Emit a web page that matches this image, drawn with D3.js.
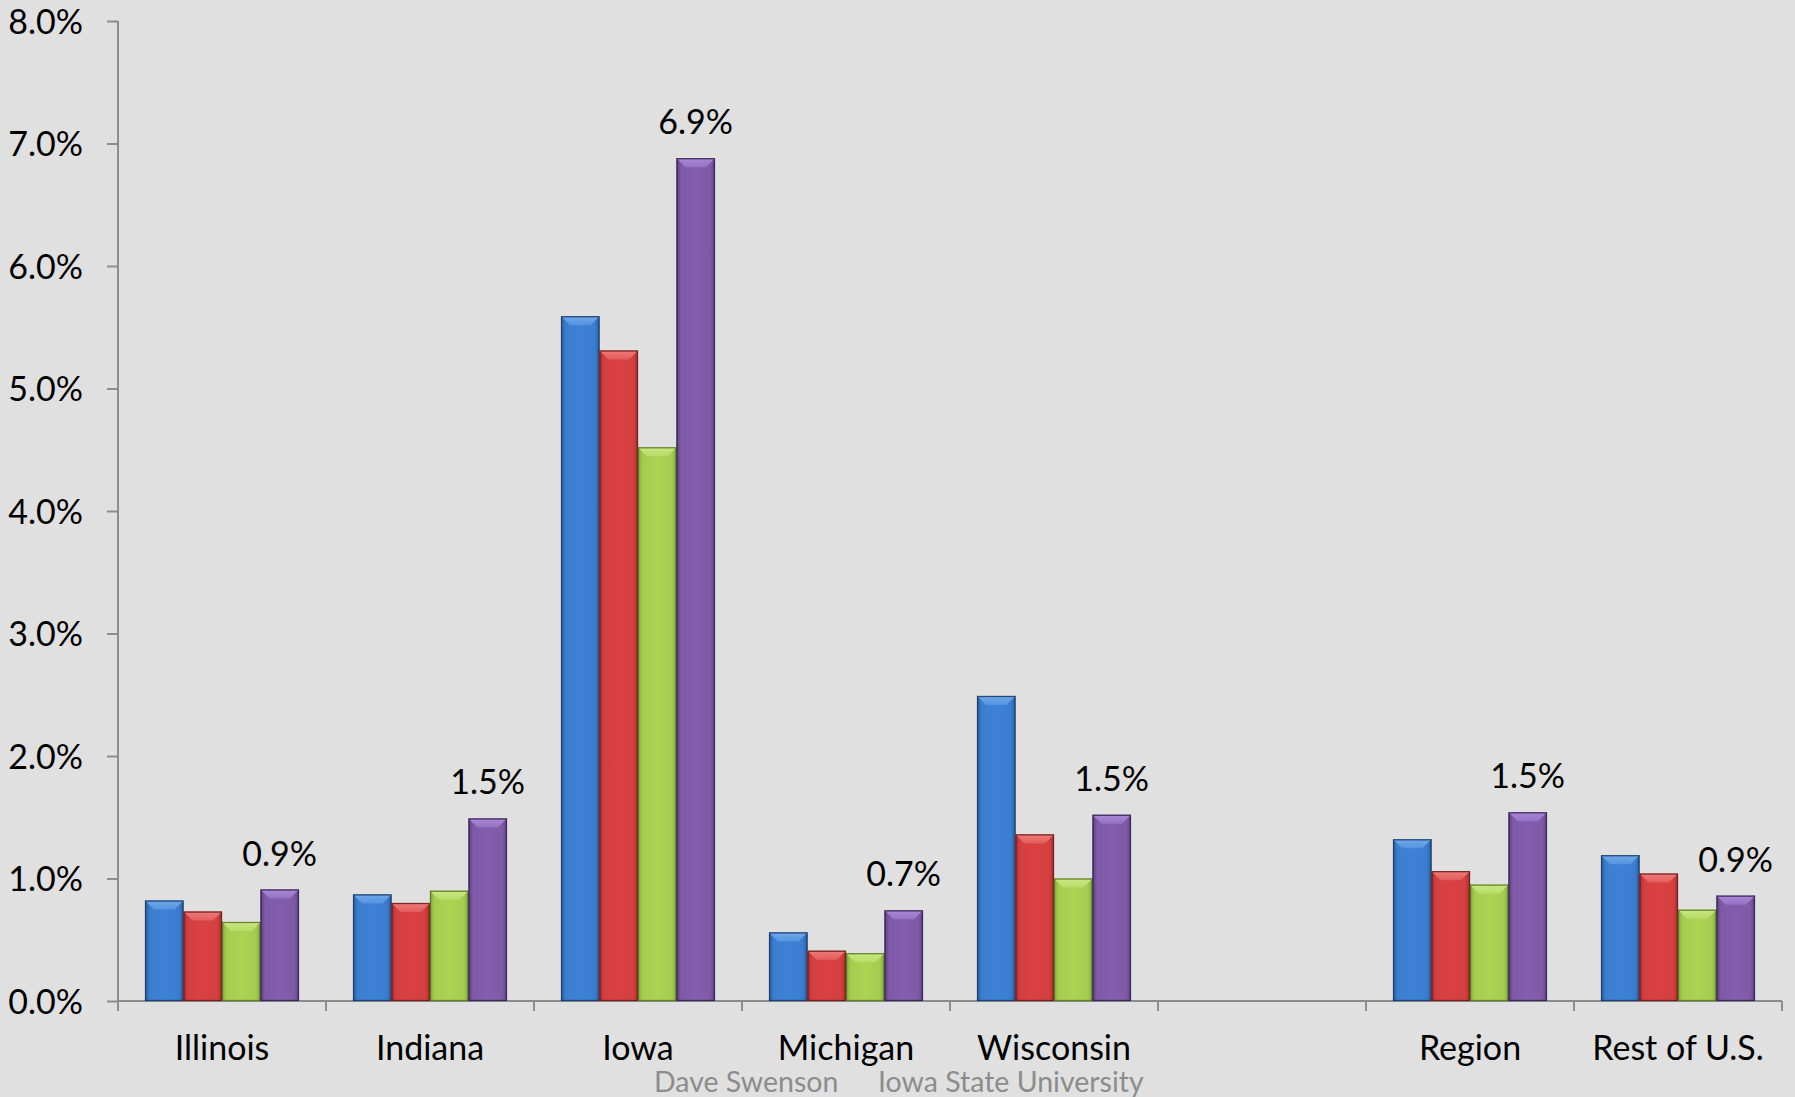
<!DOCTYPE html>
<meta charset="utf-8">
<style>
body { margin: 0; background: #e0e0e0; }
svg { display: block; font-family: Lato, "Open Sans", sans-serif; }
.axis path, .axis line { stroke: #8c8c8c; stroke-width: 2px; }
.axis text { fill: #000; font-size: 34px; font-family: Lato, sans-serif; }
.value-labels text { fill: #000; font-size: 34px; text-anchor: middle; }
.footer text { fill: #8c8c8c; font-size: 28.5px; }
</style>

<svg id="chart" width="1795" height="1097"></svg>

<script src="https://d3js.org/d3.v7.min.js"></script>
<script>
    var categories = ["Illinois", "Indiana", "Iowa", "Michigan", "Wisconsin", "", "Region", "Rest of U.S."];
    var s1 = [0.82, 0.87, 5.59, 0.56, 2.49, null, 1.32, 1.19];
    var s2 = [0.73, 0.80, 5.31, 0.41, 1.36, null, 1.06, 1.04];
    var s3 = [0.645, 0.90, 4.52, 0.39, 1.00, null, 0.95, 0.745];
    var s4 = [0.91, 1.49, 6.88, 0.74, 1.52, null, 1.54, 0.86];
    var valueLabels = ["0.9%", "1.5%", "6.9%", "0.7%", "1.5%", "", "1.5%", "0.9%"];
    var yTicks = [0, 1, 2, 3, 4, 5, 6, 7, 8];

    var colors = [
        {base: "#3b7dd0", light: "#6ea9ec", dark: "#2a5e9e", line: "#1d3a60"},
        {base: "#d43f3f", light: "#f07b79", dark: "#a82e2e", line: "#661c1c"},
        {base: "#a4cd4f", light: "#c9e882", dark: "#84a83a", line: "#587324"},
        {base: "#7f5aa8", light: "#ab88da", dark: "#5f4181", line: "#33234a"}
    ];

    var series = [s1, s2, s3, s4];

    var svg = d3.select("#chart"),
        plotLeft = 118, plotRight = 1782, plotTop = 21, plotBottom = 1001;

    var x = d3.scaleBand()
              .domain(d3.range(categories.length))
              .range([plotLeft, plotRight])
              .paddingInner(0)
              .paddingOuter(0);
    var groupPad = 0.26;
    var x1 = d3.scaleBand()
               .domain(d3.range(series.length))
               .range([x.bandwidth() * groupPad / 2, x.bandwidth() * (1 - groupPad / 2)]);
    var y = d3.scaleLinear()
              .domain([0, 8])
              .range([plotBottom, plotTop]);

    // gradients for each colour
    var defs = svg.append("defs");
    colors.forEach(function(c, i) {
        var g = defs.append("linearGradient")
                    .attr("id", "grad" + i)
                    .attr("x1", "0").attr("x2", "1").attr("y1", "0").attr("y2", "0");
        g.append("stop").attr("offset", "0").attr("stop-color", c.dark);
        g.append("stop").attr("offset", "0.12").attr("stop-color", c.base);
        g.append("stop").attr("offset", "0.5").attr("stop-color", d3.rgb(c.base).brighter(0.1));
        g.append("stop").attr("offset", "0.88").attr("stop-color", c.base);
        g.append("stop").attr("offset", "1").attr("stop-color", c.dark);
        var t = defs.append("linearGradient")
                    .attr("id", "top" + i)
                    .attr("x1", "0").attr("x2", "0").attr("y1", "0").attr("y2", "1");
        t.append("stop").attr("offset", "0").attr("stop-color", c.light);
        t.append("stop").attr("offset", "1").attr("stop-color", d3.interpolateRgb(c.light, c.base)(0.5));
    });

    // y axis
    svg.append("g")
       .attr("class", "axis y")
       .attr("transform", "translate(" + plotLeft + ",0)")
       .call(d3.axisLeft(y).tickValues(yTicks).tickSize(11).tickPadding(24)
               .tickFormat(function(d) { return d.toFixed(1) + "%"; }))
       .attr("font-family", null)
       .attr("font-size", null)
       .call(function(g) { g.select(".domain").attr("d", "M0," + plotTop + "V" + plotBottom); })
       .call(function(g) { g.selectAll("text").attr("dy", "0.36em"); });

    // x axis: ticks at category boundaries
    var xAxis = svg.append("g")
       .attr("class", "axis x");
    xAxis.append("path")
         .attr("d", "M" + plotLeft + "," + plotBottom + "H" + plotRight);
    xAxis.selectAll("line")
         .data(d3.range(categories.length + 1))
         .enter().append("line")
         .attr("x1", function(d) { return plotLeft + d * x.bandwidth(); })
         .attr("x2", function(d) { return plotLeft + d * x.bandwidth(); })
         .attr("y1", plotBottom)
         .attr("y2", plotBottom + 10);
    xAxis.selectAll("text")
         .data(categories)
         .enter().append("text")
         .attr("x", function(d, i) { return x(i) + x.bandwidth() / 2; })
         .attr("y", 1060)
         .attr("text-anchor", "middle")
         .text(function(d) { return d; });

    // bars
    var bevel = 9;
    var groups = svg.append("g")
       .attr("class", "bars")
       .selectAll("g")
       .data(categories)
       .enter().append("g")
       .attr("transform", function(d, i) { return "translate(" + x(i) + ",0)"; });

    groups.each(function(cat, ci) {
        var g = d3.select(this);
        series.forEach(function(s, si) {
            var v = s[ci];
            if (v == null) return;
            var bx = x1(si), bw = x1.bandwidth(), by = y(v), bh = y(0) - y(v);
            var c = colors[si];
            g.append("rect")
             .attr("x", bx).attr("y", by)
             .attr("width", bw).attr("height", bh)
             .attr("fill", "url(#grad" + si + ")");
            var b = Math.min(bevel, bh);
            g.append("path")
             .attr("d", "M" + bx + "," + by + "H" + (bx + bw) + "L" + (bx + bw - b) + "," + (by + b) +
                        "H" + (bx + b) + "Z")
             .attr("fill", "url(#top" + si + ")");
            g.append("rect")
             .attr("x", bx + 0.5).attr("y", by + 0.5)
             .attr("width", bw - 1).attr("height", bh - 1)
             .attr("fill", "none")
             .attr("stroke", c.line)
             .attr("stroke-opacity", 0.85)
             .attr("stroke-width", 1.3);
        });
    });

    // value labels above the last series
    svg.append("g")
       .attr("class", "value-labels")
       .selectAll("text")
       .data(categories.filter(function(d, i) { return valueLabels[i] !== ""; }))
       .enter().append("text")
       .attr("x", function(d) { var i = categories.indexOf(d); return x(i) + x1(3) + x1.bandwidth() / 2; })
       .attr("y", function(d) { var i = categories.indexOf(d); return y(s4[i]) - 24; })
       .text(function(d) { return valueLabels[categories.indexOf(d)]; });

    // footer
    var footer = svg.append("g").attr("class", "footer");
    footer.append("text").attr("x", 654).attr("y", 1092).text("Dave Swenson");
    footer.append("text").attr("x", 878).attr("y", 1092).text("Iowa State University");
</script>
